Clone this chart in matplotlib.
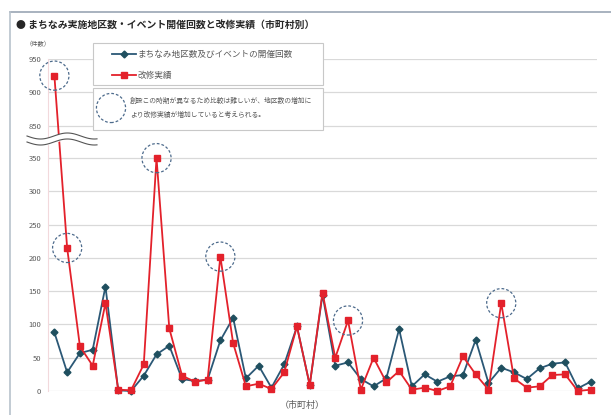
import numpy as np
import matplotlib
matplotlib.use('Agg')
import matplotlib.pyplot as plt
from matplotlib.patches import Rectangle

plt.rcParams['font.family'] = ['Noto Sans CJK JP', 'DejaVu Sans']

TITLE = '● まちなみ実施地区数・イベント開催回数と改修実績（市町村別）'
LABEL_EVENTS = 'まちなみ地区数及びイベントの開催回数'
LABEL_REPAIRS = '改修実績'
NOTE_LINES = ['創設この時期が異なるため比較は難しいが、地区数の増加に',
              'より改修実績が増加していると考えられる。']

# one point per municipality
events = [88, 28, 57, 62, 157, 1, 0, 23, 55, 68, 18, 15, 17, 76, 110, 19, 38, 5, 40, 97, 9,
          145, 38, 43, 18, 7, 19, 93, 7, 25, 14, 22, 24, 77, 12, 35, 28, 18, 34, 41, 43, 4, 14]
repairs = [925, 215, 67, 38, 132, 2, 1, 40, 350, 94, 23, 14, 17, 202, 72, 7, 11, 3, 28, 97, 9,
           148, 50, 106, 2, 50, 13, 30, 2, 5, 0, 7, 52, 25, 2, 132, 19, 5, 7, 24, 25, 0, 2]
highlight = [0, 1, 8, 13, 23, 35]
y_ticks = [0, 50, 100, 150, 200, 250, 300, 350, 850, 900, 950]

BLUE = '#2b5876'
RED = '#e3212b'
GRAY = '#595959'
GRID = '#d9d9d9'

# broken axis: squeeze 374..826 into one unit
XP = [-1000, 374, 826, 5000]
FP = [-1000, 374, 375, 4549]


def forward(v):
    return np.interp(v, XP, FP)


def inverse(v):
    return np.interp(v, FP, XP)


W, H = 611, 415
fig = plt.figure(figsize=(W / 100, H / 100), dpi=100)
fig.patch.set_facecolor('white')

ax = fig.add_axes([48 / W, 1 - 391 / H, (597 - 48) / W, (391 - 59) / H])
ax.set_yscale('function', functions=(forward, inverse))
x = np.arange(len(events))

ax.plot(x, events, color=BLUE, lw=1.3, marker='D', ms=3.5, mfc='#1f4f5f', mec='#1f4f5f',
        clip_on=False, zorder=3)
ax.plot(x, repairs, color=RED, lw=1.3, marker='s', ms=4.2, mfc=RED, mec=RED,
        clip_on=False, zorder=4)
hx = [x[i] for i in highlight]
hy = [repairs[i] for i in highlight]
ax.scatter(hx, hy, s=440, facecolors='none', edgecolors='#4d6b8c', linewidths=0.9,
           linestyles=(0, (2.2, 1.6)), zorder=5, clip_on=False)

ax.set_xlim(-0.5, len(events) - 0.5)
ax.set_ylim(0, 950)
ax.set_yticks(y_ticks)
ax.set_yticklabels([str(t) for t in y_ticks])
ax.set_xticks([])
ax.tick_params(axis='y', length=0, labelsize=5.5, labelcolor=GRAY, pad=5)
ax.grid(axis='y', color=GRID, lw=0.9)
ax.set_axisbelow(True)
for s in ['top', 'right', 'bottom']:
    ax.spines[s].set_visible(False)
ax.spines['left'].set_color('#f2d9dc')
ax.spines['left'].set_linewidth(0.8)

# decorations in pixel coords
deco = fig.add_axes([0, 0, 1, 1], zorder=10)
deco.set_xlim(0, W)
deco.set_ylim(H, 0)
deco.axis('off')
deco.patch.set_visible(False)

deco.plot([10, W], [12, 12], color='#9aa6b4', lw=1.2)
deco.plot([10, 10], [12, H], color='#b8c2cc', lw=1.2)
deco.text(16, 25, TITLE, fontsize=7.1, fontweight='bold', color='#262626', va='center')
deco.text(26, 44, '（件数）', fontsize=4.5, color=GRAY, va='center')
deco.text(302, 405, '（市町村）', fontsize=6.5, color=GRAY, va='center', ha='center')

# break mark
wx = np.linspace(27, 97, 120)
wave = 3.0 * np.sin((wx - 27) / 70 * 2 * np.pi * 1.3)
deco.fill_between(wx, 136 + wave, 142 + wave, color='white', zorder=2)
deco.plot(wx, 136 + wave, color='#555555', lw=0.8, zorder=3)
deco.plot(wx, 142 + wave, color='#555555', lw=0.8, zorder=3)

# legend box
deco.add_patch(Rectangle((93, 43), 230, 42, facecolor='white', edgecolor='#c8c8c8', lw=0.8))
deco.plot([112, 136], [54, 54], color=BLUE, lw=1.3)
deco.plot([124], [54], marker='D', ms=3.5, color='#1f4f5f')
deco.text(137, 54, LABEL_EVENTS, fontsize=6.2, color=GRAY, va='center')
deco.plot([112, 136], [75, 75], color=RED, lw=1.3)
deco.plot([124], [75], marker='s', ms=4.2, color=RED)
deco.text(137, 75, LABEL_REPAIRS, fontsize=6.2, color=GRAY, va='center')

# note box
deco.add_patch(Rectangle((93, 88), 230, 42, facecolor='white', edgecolor='#c8c8c8', lw=0.8))
deco.scatter([111], [108], s=440, facecolors='none', edgecolors='#4d6b8c', linewidths=0.9,
             linestyles=(0, (2.2, 1.6)))
deco.text(130, 101, NOTE_LINES[0], fontsize=4.9, color=GRAY, va='center')
deco.text(130, 115, NOTE_LINES[1], fontsize=4.9, color=GRAY, va='center')

fig.savefig('out.png', dpi=100)
